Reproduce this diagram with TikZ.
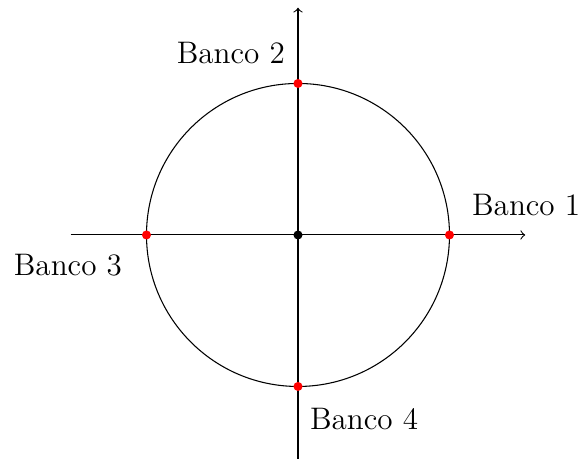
\documentclass[tikz,border=0pt]{standalone}
\usepackage{tikz}
\usetikzlibrary{positioning}

\begin{document}
\begin{tikzpicture}[banco/.style={font=\fontsize{11.7}{14}\selectfont,inner sep=0pt},
    punto/.style={circle,fill=red,inner sep=0pt,minimum size=3.4pt}]
  \useasboundingbox (-3.934,-2.957) rectangle (3.723,3.102);
  \coordinate (xmin) at (-3,0);
  \coordinate (xmax) at (3,0);
  \coordinate (ymin) at (0,-3);
  \coordinate (ymax) at (0,3);
  \draw[->] (xmin)--(xmax);
  \draw[->] (ymin)--(ymax);
  \draw (0,0) circle (2);
  \node[punto] (d1) at (2,0) {};
  \node[punto] (d2) at (0,2) {};
  \node[punto] (d3) at (-2,0) {};
  \node[punto] (d4) at (0,-2) {};
  \node[punto,fill=black] (o) at (0,0) {};
  \node[banco,above right=2mm and 2.45mm of d1] (b1) {Banco 1};
  \node[banco,above left=2.1mm and 1.2mm of d2] (b2) {Banco 2};
  \node[banco,below left=2mm and 2.7mm of d3] (b3) {Banco 3};
  \node[banco,below right=2.3mm and 1.05mm of d4] (b4) {Banco 4};
\end{tikzpicture}
\end{document}
